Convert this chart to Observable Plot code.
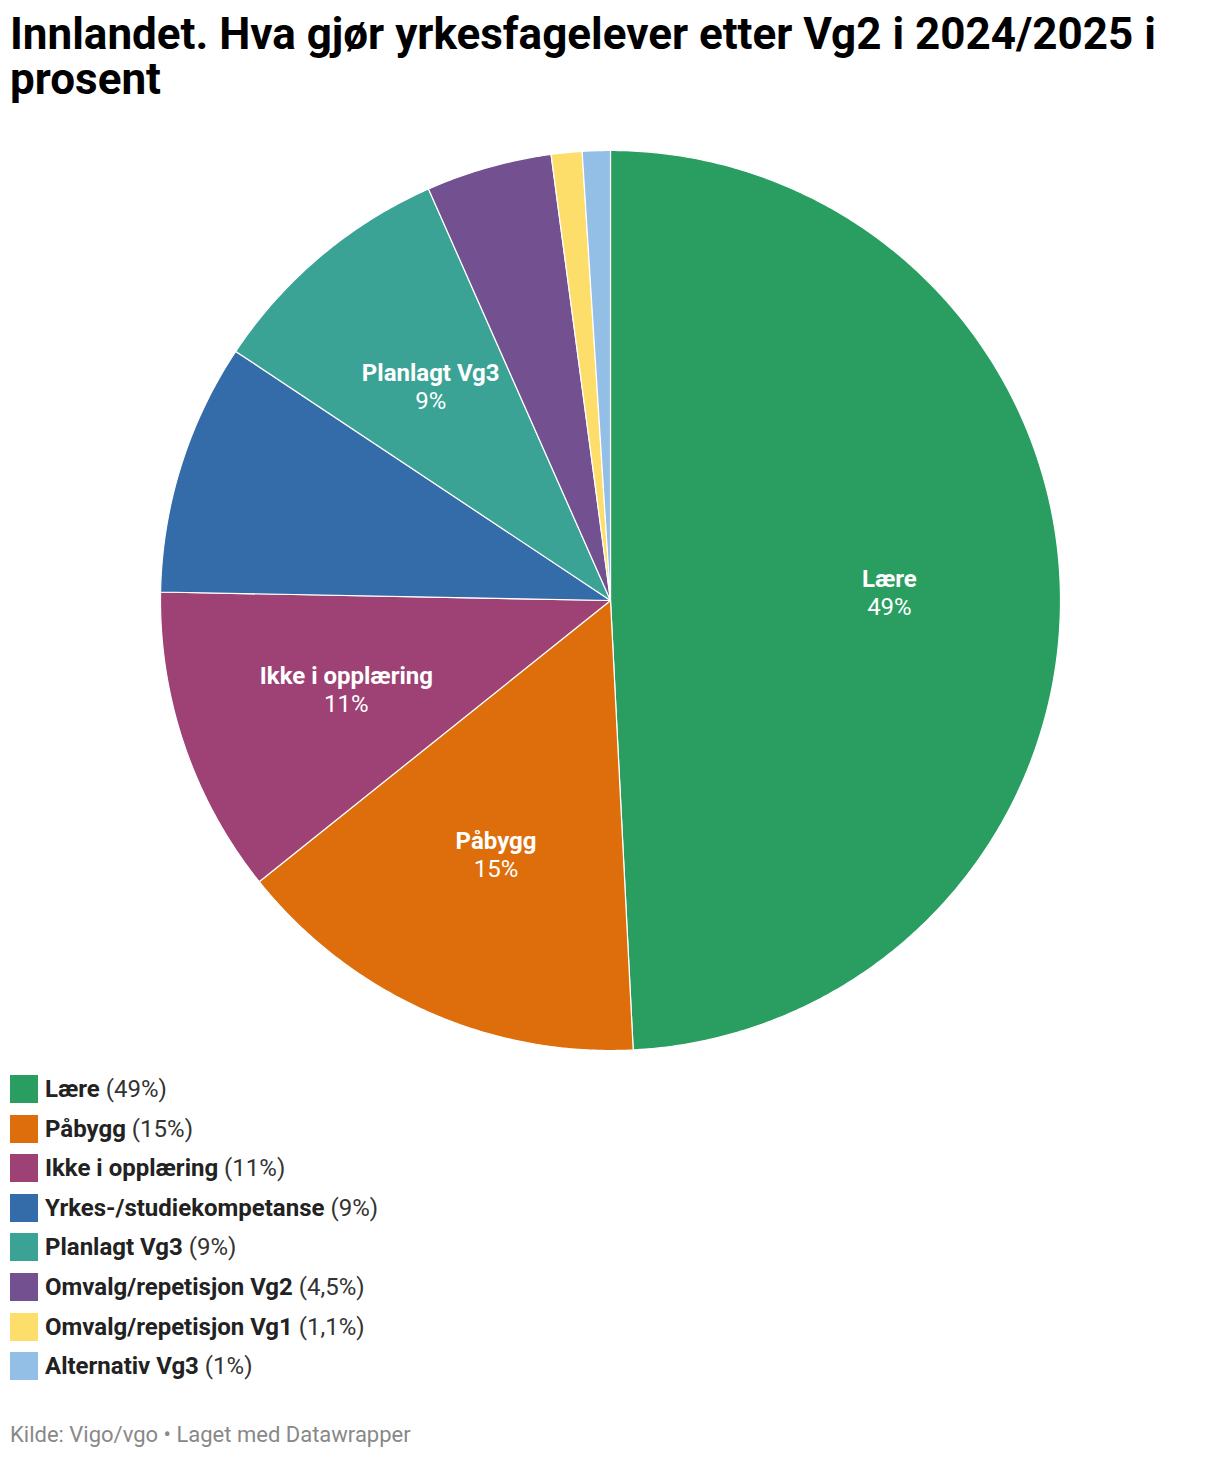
<!DOCTYPE html>
<html>
<head>
<meta charset="utf-8">
<script src="https://cdn.jsdelivr.net/npm/d3@7"></script>
<script src="https://cdn.jsdelivr.net/npm/@observablehq/plot@0.6"></script>
<style>
  body { margin: 0; background: #fff; font-family: Roboto, "Noto Sans", sans-serif; width: 1220px; }
  h1 { margin: 0; padding: 12px 10px 0 10px; font-size: 44px; line-height: 45px; font-weight: 700; color: #000; }
  #chart { margin-top: 48px; }
  #chart svg { display: block; }
  .legend { margin-top: 25px; padding-left: 10px; display: flex; flex-direction: column; gap: 11.6px; }
  .item { display: flex; align-items: center; height: 28px; font-size: 24px; color: #222; white-space: pre; }
  .sw { width: 28px; height: 28px; margin-right: 7px; flex: none; }
  .item b { font-weight: 700; color: #222; }
  .item span.v { font-weight: 400; color: #333; }
  .foot { margin-top: 43px; padding-left: 10px; font-size: 22px; line-height: 24px; color: #888; }
</style>
</head>
<body>
<h1>Innlandet. Hva gjør yrkesfagelever etter Vg2 i 2024/2025 i prosent</h1>
<div id="chart"></div>
<div class="legend" id="legend"></div>
<div class="foot">Kilde: Vigo/vgo • Laget med Datawrapper</div>
<script>
const categories = ["Lære", "Påbygg", "Ikke i opplæring", "Yrkes-/studiekompetanse", "Planlagt Vg3", "Omvalg/repetisjon Vg2", "Omvalg/repetisjon Vg1", "Alternativ Vg3"];
const values = [49, 15, 11, 9, 9, 4.5, 1.1, 1];
const valueLabels = ["49%", "15%", "11%", "9%", "9%", "4,5%", "1,1%", "1%"];
const sliceLabelShown = ["Lære", "Påbygg", "Ikke i opplæring", "Planlagt Vg3"];
const palette = ["#299e60", "#dd6e0b", "#9e4174", "#336ca8", "#3ba396", "#73508f", "#fede6a", "#93bfe6"];

const data = categories.map((c, i) => ({category: c, value: values[i], label: valueLabels[i]}));
const arcs = d3.pie().sort(null).value(d => d.value)(data);

// Build slice polygons in unit coordinates (angle clockwise from 12 o'clock, y downward)
const pt = (a, r) => [r * Math.sin(a), -r * Math.cos(a)];
const features = arcs.map(a => {
  const n = Math.max(2, Math.ceil((a.endAngle - a.startAngle) / (Math.PI / 360)));
  const ring = [[0, 0]];
  for (let k = 0; k <= n; k++) ring.push(pt(a.startAngle + (a.endAngle - a.startAngle) * k / n, 1));
  ring.push([0, 0]);
  return {type: "Feature", properties: {category: a.data.category}, geometry: {type: "Polygon", coordinates: [ring]}};
});

const labels = arcs.filter(a => sliceLabelShown.includes(a.data.category)).map(a => {
  const m = (a.startAngle + a.endAngle) / 2;
  const [x, y] = pt(m, 0.62);
  return {x, y, name: a.data.category, value: a.data.label};
});

const frame = {type: "Polygon", coordinates: [[[-1, -1], [1, -1], [1, 1], [-1, 1], [-1, -1]]]};

const chart = Plot.plot({
  width: 1220,
  height: 900,
  margin: 0,
  projection: {type: "identity", domain: frame},
  color: {domain: categories, range: palette},
  style: {fontFamily: "Roboto, sans-serif", background: "transparent"},
  marks: [
    Plot.geo(features, {fill: d => d.properties.category, stroke: "#fff", strokeWidth: 1.2, strokeLinejoin: "round"}),
    Plot.text(labels, {x: "x", y: "y", text: "name", dy: -14, fill: "#fff", fontSize: 24, fontWeight: 700}),
    Plot.text(labels, {x: "x", y: "y", text: "value", dy: 14, fill: "#fff", fontSize: 24, fontWeight: 400})
  ]
});
document.getElementById("chart").appendChild(chart);

const legend = document.getElementById("legend");
data.forEach((d, i) => {
  const it = document.createElement("div");
  it.className = "item";
  it.innerHTML = `<div class="sw" style="background:${palette[i]}"></div><b>${d.category}</b><span class="v"> (${d.label})</span>`;
  legend.appendChild(it);
});
</script>
</body>
</html>
